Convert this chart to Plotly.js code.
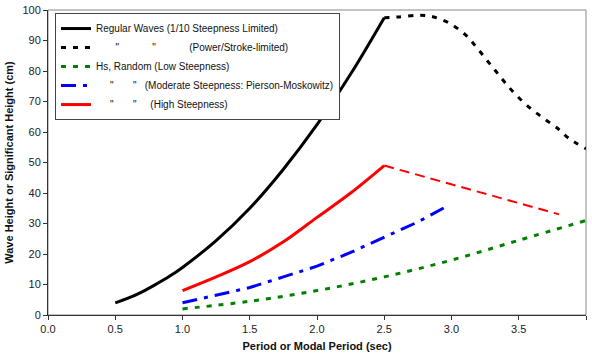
<!DOCTYPE html>
<html><head><meta charset="utf-8">
<script src="https://cdn.plot.ly/plotly-3.0.1.min.js"></script>
<style>html,body{margin:0;padding:0;background:#fff;}#c{width:592px;height:356px;}</style>
</head><body><div id="c"></div>
<script>
var regX = [0.5, 0.6, 0.7, 0.8, 0.9, 1.0, 1.25, 1.5, 1.75, 2.0, 2.25, 2.5];
var regY = [4, 5.6, 7.6, 10, 12.6, 15.6, 24.4, 35, 47.8, 62.4, 79, 97.5];
var powX = [2.5, 2.6, 2.76, 2.86, 2.98, 3.1, 3.18, 3.26, 3.33, 3.4, 3.49, 3.6, 3.7, 3.8, 3.87, 4.0];
var powY = [97.5, 97.7, 98.3, 97.8, 95.8, 92, 88.1, 83.7, 79.9, 76.1, 71.7, 67.3, 64, 60.8, 58, 54.5];
var lowX = [1.0, 1.5, 2.0, 2.5, 3.0, 3.5, 4.0];
var lowY = [2, 4.5, 8, 12.5, 18, 24.5, 31];
var modX = [1.0, 1.25, 1.5, 1.75, 2.0, 2.25, 2.5, 2.75, 2.96];
var modY = [4, 6.5, 9, 12.5, 16, 20.5, 25.5, 30.5, 35.5];
var highX = [1.0, 1.25, 1.5, 1.75, 2.0, 2.25, 2.5];
var highY = [8, 12.5, 17.5, 24, 32, 40, 49];
var highDashX = [2.5, 3.8];
var highDashY = [49, 33];

var S = '\u00a0';
function sp(n){return S.repeat(n);}
var Q = '"';
var names = [
  'Regular Waves (1/10 Steepness Limited)',
  sp(7) + Q + sp(12) + Q + sp(12) + '(Power/Stroke-limited)',
  'Hs, Random (Low Steepness)',
  sp(5) + Q + sp(7) + Q + sp(3) + '(Moderate Steepness: Pierson-Moskowitz)',
  sp(5) + Q + sp(7) + Q + sp(5) + '(High Steepness)'
];

var traces = [
  {x: regX, y: regY, mode: 'lines', name: names[0], line: {color: '#000000', width: 3, shape: 'spline'}},
  {x: powX, y: powY, mode: 'lines', name: names[1], line: {color: '#000000', width: 3, dash: '5px,7px', shape: 'spline'}},
  {x: lowX, y: lowY, mode: 'lines', name: names[2], line: {color: '#008000', width: 3, dash: '5px,7px', shape: 'spline'}},
  {x: modX, y: modY, mode: 'lines', name: names[3], line: {color: '#0000ff', width: 3, dash: '15px,7px,4px,7px'}},
  {x: highX, y: highY, mode: 'lines', name: names[4], line: {color: '#ff0000', width: 3, shape: 'spline'}},
  {x: highDashX, y: highDashY, mode: 'lines', showlegend: false, line: {color: '#ff0000', width: 2, dash: '10px,6px'}}
];

var layout = {
  width: 592, height: 356,
  margin: {l: 48, r: 6, t: 10, b: 41},
  paper_bgcolor: '#ffffff', plot_bgcolor: '#ffffff',
  font: {family: 'Liberation Sans, Arial, sans-serif', size: 11, color: '#222'},
  showlegend: true,
  legend: {x: 0.013, y: 0.99, xanchor: 'left', yanchor: 'top', bgcolor: '#ffffff',
    bordercolor: '#444', borderwidth: 1, font: {size: 10, color: '#111'},
    tracegroupgap: 0, itemwidth: 30},
  xaxis: {range: [0, 4], tickvals: [0, 0.5, 1, 1.5, 2, 2.5, 3, 3.5, 4], tickformat: '.1f',
    showgrid: false, zeroline: false, showline: true, linecolor: '#333', linewidth: 1,
    ticks: 'outside', ticklen: 4, tickcolor: '#333',
    title: {text: '<b>Period or Modal Period (sec)</b>', font: {size: 11, color: '#111'}, standoff: 8}},
  yaxis: {range: [0, 100], dtick: 10, showgrid: false, zeroline: false, showline: true,
    linecolor: '#333', linewidth: 1, ticks: 'outside', ticklen: 4, tickcolor: '#333',
    title: {text: '<b>Wave Height or Significant Height (cm)</b>', font: {size: 11, color: '#111'}, standoff: 6}},
  shapes: [{type: 'rect', xref: 'paper', yref: 'paper', x0: 0, x1: 1, y0: 0, y1: 1,
    line: {color: '#888', width: 1}, layer: 'below'}]
};

Plotly.newPlot('c', traces, layout, {displayModeBar: false, staticPlot: true});
</script></body></html>
